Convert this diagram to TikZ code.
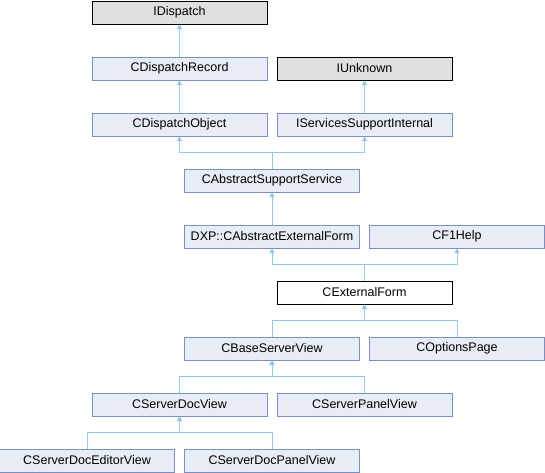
\documentclass[tikz,border=0pt]{standalone}
\usepackage{fontspec}
\setmainfont{Liberation Sans}
\usepackage{tikz}
\usetikzlibrary{positioning,arrows.meta}
\definecolor{boxfill}{HTML}{E8ECF5}
\definecolor{boxline}{HTML}{7B8FC5}
\definecolor{extfill}{HTML}{E0E0E0}
\definecolor{edgeblue}{HTML}{90C8EA}
\tikzset{cls/.style={rectangle,draw=boxline,fill=boxfill,line width=1pt,minimum width=175pt,minimum height=23pt,inner sep=0pt,font=\fontsize{12.5}{14}\selectfont},
	 xcls/.style={cls,draw=black,fill=extfill},
	 cur/.style={cls,draw=black,fill=white},
	 inh/.style={draw=edgeblue,line width=1pt,-{Triangle[width=5pt,length=4.5pt]}},
	 node distance = 56pt and 92.5pt
	 }
\begin{document}
\begin{tikzpicture}[on grid]
	\useasboundingbox (0,0) rectangle (545pt,-472pt);
	\node[xcls] (idisp) at (179.5pt,-12.5pt) {IDispatch};
	\node[cls] (cdr) [below=of idisp] {CDispatchRecord};
	\node[xcls] (iunk) [right=185pt of cdr] {IUnknown};
	\node[cls] (cdo) [below=of cdr] {CDispatchObject};
	\node[cls] (isi) [below=of iunk] {IServicesSupportInternal};
	\node[cls] (cass) [below right=of cdo] {CAbstractSupportService};
	\node[cls] (dxp) [below=of cass] {DXP::CAbstractExternalForm};
	\node[cls] (cf1) [right=185pt of dxp] {CF1Help};
	\node[cur] (cext) [below right=of dxp] {CExternalForm};
	\node[cls] (cbsv) [below left=of cext] {CBaseServerView};
	\node[cls] (copt) [right=185pt of cbsv] {COptionsPage};
	\node[cls] (csdv) [below left=of cbsv] {CServerDocView};
	\node[cls] (cspv) [right=185pt of csdv] {CServerPanelView};
	\node[cls] (csdev) [below left=of csdv] {CServerDocEditorView};
	\node[cls] (csdpv) [right=185pt of csdev] {CServerDocPanelView};
	\draw[inh] (cdr) to (idisp);
	\draw[inh] (cdo) to (cdr);
	\draw[inh] (isi) to (iunk);
	\draw[inh] (cass.north) -- ++(0,16pt) -| (cdo.south);
	\draw[inh] (cass.north) -- ++(0,16pt) -| (isi.south);
	\draw[inh] (dxp) to (cass);
	\draw[inh] (cext.north) -- ++(0,16pt) -| (dxp.south);
	\draw[inh] (cext.north) -- ++(0,16pt) -| (cf1.south);
	\draw[inh] (cbsv.north) -- ++(0,16pt) -| (cext.south);
	\draw[inh] (copt.north) -- ++(0,16pt) -| (cext.south);
	\draw[inh] (csdv.north) -- ++(0,16pt) -| (cbsv.south);
	\draw[inh] (cspv.north) -- ++(0,16pt) -| (cbsv.south);
	\draw[inh] (csdev.north) -- ++(0,16pt) -| (csdv.south);
	\draw[inh] (csdpv.north) -- ++(0,16pt) -| (csdv.south);
\end{tikzpicture}
\end{document}
